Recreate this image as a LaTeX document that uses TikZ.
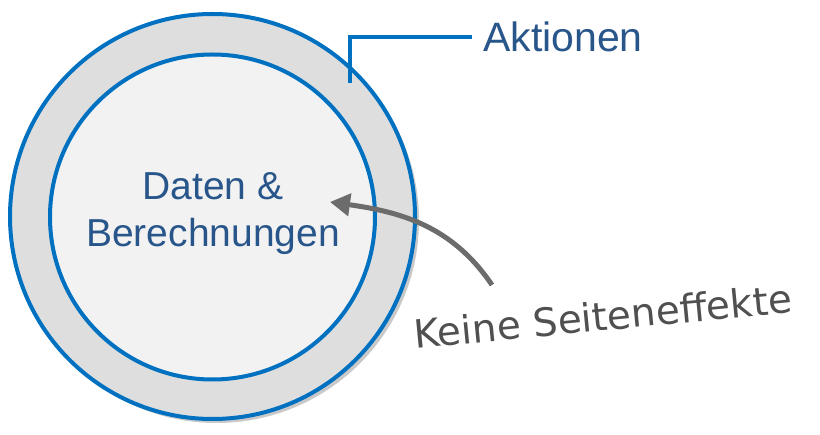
\documentclass[tikz,border=0pt]{standalone}
\usepackage{fontspec}
\setmainfont{Liberation Sans}
\newfontfamily\handfont{DejaVu Sans}
\usetikzlibrary{shadows,arrows.meta}
\definecolor{bc}{RGB}{0, 112, 192}
\definecolor{tc}{RGB}{40, 86, 138}
\definecolor{rc}{RGB}{222, 222, 222}
\definecolor{fc}{RGB}{242, 242, 242}
\definecolor{gc}{RGB}{108, 108, 108}
\definecolor{kc}{RGB}{80, 80, 80}

\begin{document}
\begin{tikzpicture}[
  disc/.style={circle, line width=4pt, draw=bc, inner sep=0pt},
  lbl/.style={text=tc, inner sep=0pt, align=center},
  note/.style={->, >={Triangle[length=20pt, width=22pt]}, line width=5pt, color=gc}]
\useasboundingbox (0pt, 0pt) rectangle (820pt, -435pt);
\node (outer) [disc, minimum size=405pt, fill=rc, drop shadow={shadow xshift=4pt, shadow yshift=-4pt, opacity=0.3, fill=black!70}] at (212.5pt, -216.5pt) {};
\node (inner) [disc, minimum size=325pt, fill=fc] at (212.5pt, -217pt) {};
\node (daten) [lbl, font=\fontsize{39}{47}\selectfont] at (213pt, -214pt) {Daten \&\\Berechnungen};
\node (aktionen) [lbl, inner xsep=11pt, anchor=base west, font=\fontsize{41}{49}\selectfont] at (472pt, -52pt) {Aktionen};
\node (keine) [text=kc, rotate=5.5, font=\handfont\fontsize{39}{46}\selectfont] at (603pt, -316pt) {Keine Seiteneffekte};
\coordinate (hook) at (350pt, -83pt);
\coordinate (tail) at (492pt, -285pt);
\coordinate (tip) at (330pt, -202pt);
\draw [line width=4pt, color=bc] (hook) |- (aktionen.west);
\draw [note] (tail) to [out=124, in=-8] (tip);
\end{tikzpicture}
\end{document}
